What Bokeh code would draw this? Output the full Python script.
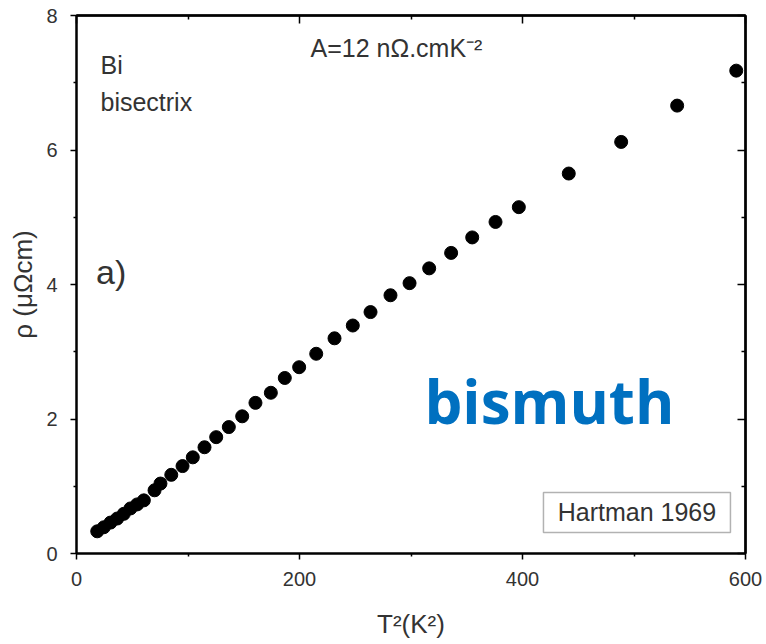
from bokeh.plotting import figure
from bokeh.models import (ColumnDataSource, Label, LinearAxis, Range1d,
                          FixedTicker, BoxAnnotation)
from bokeh.embed import file_html
from bokeh.resources import INLINE

# T^2 (K^2) and resistivity rho (micro-ohm cm)
t2 = [18.6, 24.5, 30.5, 36.5, 42.4, 48.4, 54.4, 60.4, 70.0, 75.3, 85.0, 95.1,
      104.3, 114.8, 125.3, 136.6, 148.6, 160.5, 174.3, 186.8, 199.7, 215.0,
      231.4, 247.8, 263.7, 281.6, 298.7, 316.3, 336.0, 354.9, 375.8, 396.7,
      441.5, 488.5, 538.7, 591.7]
rho = [0.33, 0.39, 0.46, 0.52, 0.59, 0.67, 0.73, 0.79, 0.94, 1.04, 1.17, 1.30,
       1.43, 1.58, 1.73, 1.88, 2.04, 2.24, 2.39, 2.61, 2.77, 2.97,
       3.20, 3.39, 3.59, 3.84, 4.02, 4.24, 4.47, 4.70, 4.93, 5.15,
       5.65, 6.12, 6.66, 7.18]

x_major = [0, 200, 400, 600]
y_major = [0, 2, 4, 6, 8]
x_minor = [100, 300, 500]
y_minor = [1, 3, 5, 7]

FONT = "Liberation Sans"
TXT = "#333333"

p = figure(width=766, height=644, output_backend="svg", toolbar_location=None,
           x_range=Range1d(0, 600), y_range=Range1d(0, 8),
           min_border_left=76, min_border_right=21, min_border_top=15,
           min_border_bottom=91, x_axis_label="T²(K²)", y_axis_label="ρ (μΩcm)")

p.xgrid.visible = False
p.ygrid.visible = False
p.outline_line_color = "black"
p.outline_line_width = 2
p.background_fill_color = "white"
p.border_fill_color = "white"

def style(ax, ticks, minor):
    ax.ticker = FixedTicker(ticks=ticks, minor_ticks=minor)
    ax.axis_line_color = "black"
    ax.axis_line_width = 2
    ax.major_tick_line_color = "black"
    ax.minor_tick_line_color = "black"
    ax.major_tick_line_width = 1.5
    ax.minor_tick_line_width = 1.5
    ax.major_tick_in = 0
    ax.major_tick_out = 6
    ax.minor_tick_in = 0
    ax.minor_tick_out = 3
    ax.major_label_text_font = FONT
    ax.major_label_text_font_size = "20px"
    ax.major_label_text_color = TXT

xa = p.xaxis[0]
ya = p.yaxis[0]
style(xa, x_major, x_minor)
style(ya, y_major, y_minor)
xa.major_label_standoff = 12
ya.major_label_standoff = 13
for ax in (xa, ya):
    ax.axis_label_text_font = FONT
    ax.axis_label_text_font_style = "normal"
    ax.axis_label_text_font_size = "26px"
    ax.axis_label_text_color = TXT
xa.axis_label_standoff = 20
ya.axis_label_standoff = 5

# mirror axes (top/right): inward ticks only, no labels.
# ticks drawn as "minor" ticks so no label texts are produced.
def mirror(where, positions, length):
    ax = LinearAxis(ticker=FixedTicker(ticks=[], minor_ticks=positions))
    ax.axis_line_color = "black"
    ax.axis_line_width = 2
    ax.minor_tick_line_color = "black"
    ax.minor_tick_line_width = 1.5
    ax.minor_tick_in = length
    ax.minor_tick_out = 0
    ax.major_tick_in = 0
    ax.major_tick_out = 0
    ax.major_label_standoff = 0
    p.add_layout(ax, where)

mirror("above", x_major, 8)
mirror("above", x_minor, 4)
mirror("right", y_major, 8)
mirror("right", y_minor, 4)

src = ColumnDataSource(dict(x=t2, y=rho))
p.scatter("x", "y", source=src, size=13, color="black")

def lab(x, y, text, size, **kw):
    opts = dict(text_font=FONT, text_color=TXT, text_baseline="middle")
    opts.update(kw)
    p.add_layout(Label(x=x, y=y, text=text, text_font_size=size, **opts))

lab(21.5, 7.26, "Bi", "25px")
lab(21.5, 6.72, "bisectrix", "25px")
lab(209.9, 7.51, "A=12 nΩ.cmK⁻²", "25px")
lab(17.5, 4.18, "a)", "34px")
lab(312, 2.27, "bismuth", "60px", text_font="Open Sans", text_color="#0070C0",
    text_font_style="bold")

p.add_layout(BoxAnnotation(left=418.8, right=586.5, bottom=0.312, top=0.907,
                           fill_color=None, line_color="black", line_width=1.5))
lab(502.6, 0.61, "Hartman 1969", "25px", text_align="center")

open("out.html", "w").write(file_html(p, INLINE))
